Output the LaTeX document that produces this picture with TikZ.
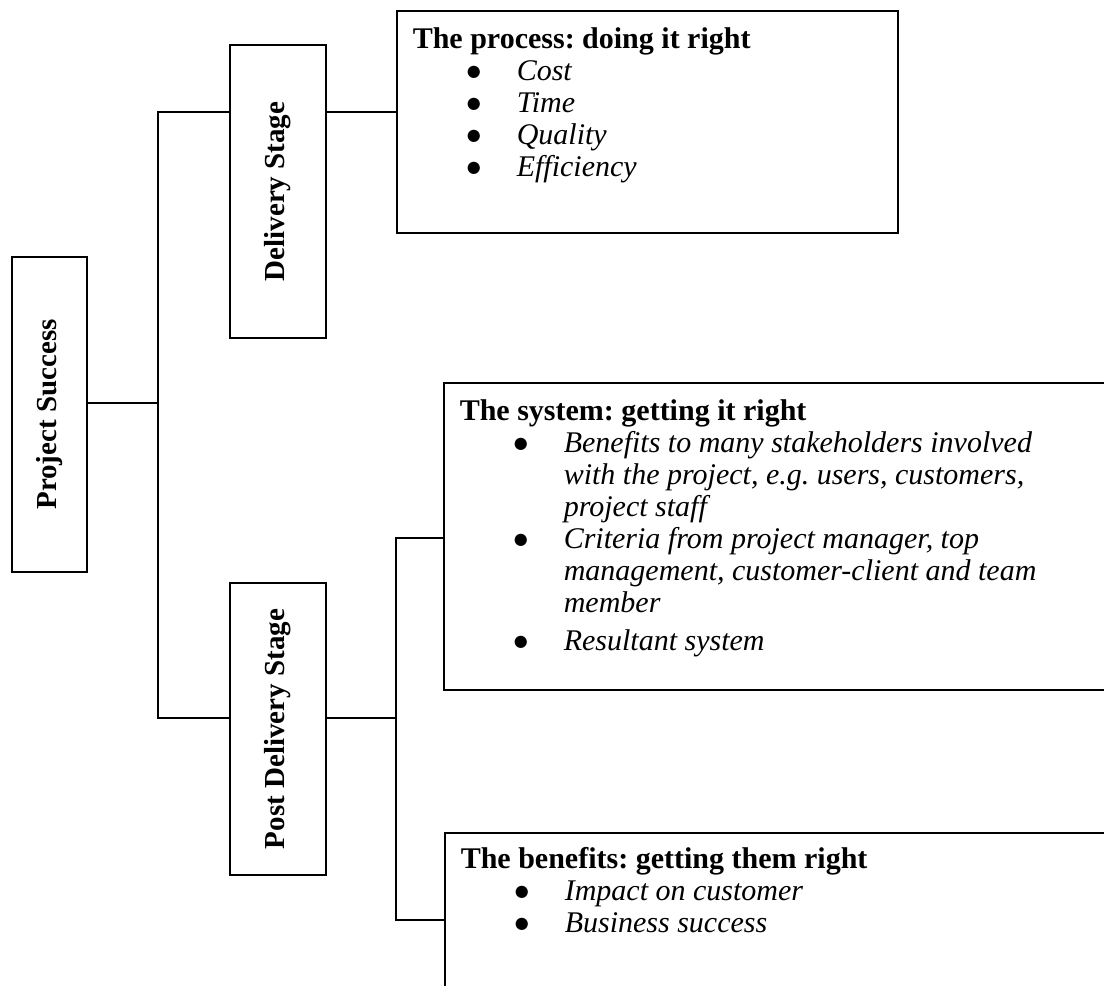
\documentclass[tikz,border=0pt]{standalone}
\usepackage{fontspec}
\setmainfont{Liberation Serif}
\newfontfamily\dotfont{DejaVu Sans}
\newcommand{\bigdot}{\raisebox{4pt}{\dotfont\fontsize{16}{16}\selectfont ●}}
\newenvironment{blist}{\begin{list}{\bigdot}{\setlength{\leftmargin}{120pt}\setlength{\labelwidth}{50pt}\setlength{\labelsep}{0pt}\setlength{\topsep}{0pt}\setlength{\partopsep}{0pt}\setlength{\itemsep}{0pt}\setlength{\parsep}{0pt}\setlength{\itemindent}{0pt}\renewcommand{\makelabel}[1]{\makebox[50pt][l]{\upshape ##1}}}\itshape}{\end{list}}
\begin{document}
\begin{tikzpicture}[x=1pt,y=-1pt,
  line width=1.6pt,
  stagebox/.style={draw, rectangle, inner sep=0pt, font=\fontsize{29}{33}\selectfont\bfseries},
  infobox/.style={draw, rectangle, inner sep=0pt, anchor=north west, font=\fontsize{30}{32}\selectfont},
  wire/.style={draw, line width=1.6pt}]
\clip (0,0) rectangle (1104,986);

% stage boxes
\node[stagebox, minimum width=75pt, minimum height=315pt] (ps) at (49.5,414.5) {\rotatebox{90}{Project Success}};
\node[stagebox, minimum width=96pt, minimum height=293pt] (ds) at (278,191.5) {\rotatebox{90}{Delivery Stage}};
\node[stagebox, minimum width=96pt, minimum height=292pt] (pds) at (278,729) {\rotatebox{90}{Post Delivery Stage}};

% content boxes
\node[infobox] (proc) at (396,10) {\begin{minipage}[t][222pt][t]{501pt}\setlength{\parskip}{0pt}\raggedright\frenchspacing
\hspace*{16pt}\rule{0pt}{38pt}\textbf{The process: doing it right}
\begin{blist}
\item Cost
\item Time
\item Quality
\item Efficiency
\end{blist}
\end{minipage}};

\node[infobox] (sys) at (443,382) {\begin{minipage}[t][307pt][t]{760pt}\setlength{\parskip}{0pt}\raggedright\frenchspacing
\hspace*{16pt}\rule{0pt}{38pt}\textbf{The system: getting it right}
\begin{blist}
\item Benefits to many stakeholders involved\newline with the project, e.g. users, customers,\newline project staff
\item Criteria from project manager, top\newline management, customer-client and team\newline member\vspace{6pt}
\item Resultant system
\end{blist}
\end{minipage}};

\node[infobox] (ben) at (444,832) {\begin{minipage}[t][220pt][t]{760pt}\setlength{\parskip}{0pt}\raggedright\frenchspacing
\hspace*{16pt}\rule{0pt}{36pt}\textbf{The benefits: getting them right}
\begin{blist}
\item Impact on customer
\item Business success
\end{blist}
\end{minipage}};

% junction coordinates
\coordinate (a0) at (158,112);
\coordinate (a1) at (158,403);
\coordinate (a2) at (158,718);
\coordinate (b0) at (396,538);
\coordinate (b1) at (396,718);
\coordinate (b2) at (396,920);

% connectors
\draw[wire] (ps.east |- a1) -- (a1);
\draw[wire] (ds.west |- a0) -- (a0) -- (a2) -- (pds.west |- a2);
\draw[wire] (ds.east |- a0) -- (proc.west |- a0);
\draw[wire] (pds.east |- b1) -- (b1);
\draw[wire] (sys.west |- b0) -- (b0) -- (b2) -- (ben.west |- b2);
\end{tikzpicture}
\end{document}
